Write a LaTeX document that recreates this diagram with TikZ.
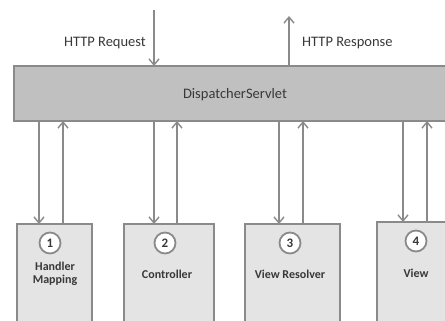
\documentclass[tikz,border=0pt]{standalone}
\usepackage{fontspec}
\setmainfont{Carlito}
\usetikzlibrary{arrows.meta}
\definecolor{linegray}{HTML}{8A8A8A}
\definecolor{dsfill}{HTML}{C0C0C0}
\definecolor{boxfill}{HTML}{E4E4E4}
\definecolor{txt}{HTML}{383838}
\tikzset{
  arr/.style={draw=linegray, line width=1.6pt, -{Straight Barb[length=6pt,width=10pt,line width=1.4pt]}},
  compbox/.style={draw=linegray, fill=boxfill, line width=2.2pt},
  numcirc/.style={circle, draw=linegray, fill=white, line width=1.8pt, minimum size=21pt, inner sep=0pt, font=\fontsize{13}{13}\selectfont\bfseries, text=txt},
  lbl/.style={font=\fontsize{12}{13}\selectfont\bfseries, text=txt, align=center, inner sep=0pt},
  httplbl/.style={font=\fontsize{14.5}{15}\selectfont, text=txt, inner sep=0pt}
}
\begin{document}
\begin{tikzpicture}[x=1pt,y=-1pt]
\useasboundingbox (0,0) rectangle (445,321);
\clip (0,0) rectangle (445,321);
% DispatcherServlet
\draw[draw=linegray, fill=dsfill, line width=1.8pt] (14,66) rectangle (465,121);
\node[httplbl] (ds) at (235,95) {DispatcherServlet};
\coordinate (dsT) at (14,66);
\coordinate (dsB) at (14,121);
% components
\draw[compbox] (17,224) rectangle (92,340);
\draw[compbox] (124,224) rectangle (214,340);
\draw[compbox] (245,224) rectangle (340,340);
\draw[compbox] (377,222) rectangle (465,340);
\coordinate (b1) at (17,224);
\coordinate (b2) at (124,224);
\coordinate (b3) at (245,224);
\coordinate (b4) at (377,222);
\node[numcirc] (n1) at (50,243) {1};
\node[numcirc] (n2) at (165,243) {2};
\node[numcirc] (n3) at (290,243) {3};
\node[numcirc] (n4) at (416,241) {4};
\node[lbl] (l1) at (55,274) {Handler\\Mapping};
\node[lbl] (l2) at (167,274) {Controller};
\node[lbl] (l3) at (290,274) {View Resolver};
\node[lbl] (l4) at (416,273) {View};
% HTTP
\coordinate (reqTop) at (154,10);
\coordinate (resTop) at (289,16);
\draw[arr] (reqTop) -- (reqTop |- dsT);
\draw[arr] (resTop |- dsT) -- (resTop);
\node[httplbl, anchor=east] (req) at (146,43) {HTTP Request};
\node[httplbl, anchor=west] (res) at (302,43) {HTTP Response};
% vertical arrows
\coordinate (d1) at (39,0);  \coordinate (u1) at (63,0);
\coordinate (d2) at (154,0); \coordinate (u2) at (177,0);
\coordinate (d3) at (279,0); \coordinate (u3) at (303,0);
\coordinate (d4) at (403,0); \coordinate (u4) at (427,0);
\draw[arr] (d1 |- dsB) -- (d1 |- b1);
\draw[arr] (u1 |- b1) -- (u1 |- dsB);
\draw[arr] (d2 |- dsB) -- (d2 |- b2);
\draw[arr] (u2 |- b2) -- (u2 |- dsB);
\draw[arr] (d3 |- dsB) -- (d3 |- b3);
\draw[arr] (u3 |- b3) -- (u3 |- dsB);
\draw[arr] (d4 |- dsB) -- (d4 |- b4);
\draw[arr] (u4 |- b4) -- (u4 |- dsB);
\end{tikzpicture}
\end{document}
